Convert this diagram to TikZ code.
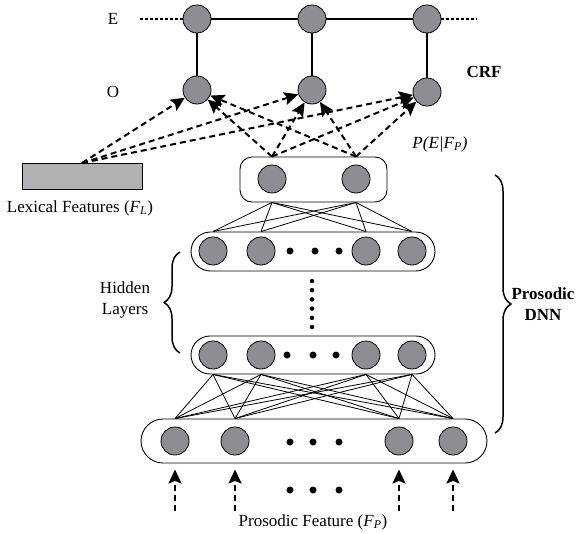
\documentclass[tikz,border=0pt]{standalone}
\usepackage{fontspec}
\setmainfont{Liberation Serif}
\usetikzlibrary{arrows.meta,shapes.misc,decorations.pathreplacing}
\definecolor{neurongray}{RGB}{141,142,146}
\definecolor{lexgray}{RGB}{176,177,181}
\begin{document}
\begin{tikzpicture}[x=1pt, y=-1pt, font=\fontsize{17}{21}\selectfont, line join=round,
  >={Stealth[length=14pt,width=13pt,inset=2.5pt]}]
\tikzset{
  neuron/.style={circle, draw, line width=0.8pt, fill=neurongray, minimum size=28pt, inner sep=0pt},
  layerbox/.style={draw, line width=0.9pt, rounded rectangle, inner sep=0pt},
  bigdot/.style={circle, fill=black, minimum size=7pt, inner sep=0pt},
  smalldot/.style={circle, fill=black, minimum size=4.5pt, inner sep=0pt},
  flow/.style={->, line width=2pt, dash pattern=on 6pt off 4pt},
  link/.style={line width=0.8pt},
  crfline/.style={line width=1.8pt},
}
\useasboundingbox (0,0) rectangle (577,533);
% Khung các lớp mạng
\node[draw, line width=0.9pt, rounded corners=12pt, minimum width=147pt, minimum height=45pt] (tbox) at (313.5,179.5) {};
\node[layerbox, minimum width=244pt, minimum height=39pt] (h1box) at (313,251.5) {};
\node[layerbox, minimum width=244pt, minimum height=38pt] (h2box) at (313,355) {};
\node[layerbox, minimum width=346pt, minimum height=44pt] (bbox) at (314,441) {};
% Các nút CRF
\foreach \k/\x in {1/197,2/312,3/427} \node[neuron] (E\k) at (\x,19) {};
\node[neuron] (O1) at (197,90) {};
\node[neuron] (O2) at (312,90) {};
\node[neuron] (O3) at (427,92) {};
% Các nút của mạng DNN
\node[neuron] (t1) at (272,179) {};
\node[neuron] (t2) at (356,179) {};
\foreach \k/\x in {1/213,2/261,3/366,4/412} {
  \node[neuron] (h\k) at (\x,251) {};
  \node[neuron] (g\k) at (\x,355) {};
}
\foreach \k/\x in {1/175,2/235,3/399,4/453} \node[neuron] (b\k) at (\x,441) {};
% Dấu chấm
\foreach \x in {290,315,339} \node[bigdot] at (\x,251) {};
\foreach \x in {287,313,336} \node[bigdot] at (\x,355) {};
\foreach \x in {290,313,339} {
  \node[bigdot] at (\x,442) {};
  \node[bigdot] at (\x,490) {};
}
\foreach \k in {0,...,5} \node[smalldot] at (312,{281+9.2*\k}) {};
% Liên kết giữa các lớp
\foreach \i in {1,2} \foreach \j in {1,...,4}
  \draw[link] (t\i |- tbox.south) -- (h\j |- h1box.north);
\foreach \i in {1,...,4} \foreach \j in {1,...,4}
  \draw[link] (g\i |- h2box.south) -- (b\j |- bbox.north);
% Chuỗi CRF
\coordinate (eleft) at (140,19);
\coordinate (eright) at (477,19);
\draw[crfline] (E1) -- (E2) -- (E3);
\draw[crfline, dash pattern=on 3pt off 2pt] (eleft) -- (E1) (E3) -- (eright);
\foreach \k in {1,2,3} \draw[crfline] (E\k) -- (O\k);
% Đặc trưng từ vựng
\node[draw, line width=0.9pt, fill=lexgray, minimum width=120pt, minimum height=26pt, inner sep=0pt] (lex) at (82,176.5) {};
\node (lexlabel) at (80,208) {Lexical Features (\textit{F}\textsubscript{\textit{L}})};
% Mũi tên nét đứt lên các nút O
\foreach \k in {1,2,3} {
  \draw[flow] (lex.north) -- (O\k);
  \draw[flow] (t1 |- tbox.north) -- (O\k);
  \draw[flow] (t2 |- tbox.north) -- (O\k);
}
% Đầu vào ngữ điệu
\foreach \k/\x in {1/175,2/235,3/399,4/453} {
  \coordinate (src\k) at (\x,511);
  \draw[flow, shorten >=6pt] (src\k) -- (b\k |- bbox.south);
}
% Dấu ngoặc
\draw[decorate, decoration={brace, amplitude=16pt}, line width=1.5pt] (495,175) -- (495,433);
\draw[decorate, decoration={brace, amplitude=16pt}, line width=1.5pt] (180,353) -- (180,252);
% Nhãn
\node (elabel) at (113,19) {E};
\node (olabel) at (113,92) {O};
\node (crflabel) at (484,72) {\bfseries CRF};
\node (plabel) at (440,144) {\textit{P(E|F}\textsubscript{\textit{P}}\textit{)}};
\node[align=center] (hidlabel) at (125,300) {Hidden\\Layers};
\node[align=center] (dnnlabel) at (543,304) {\bfseries Prosodic\\\bfseries DNN};
\node (plabel2) at (313,522) {Prosodic Feature (\textit{F}\textsubscript{\textit{P}})};
\end{tikzpicture}
\end{document}
